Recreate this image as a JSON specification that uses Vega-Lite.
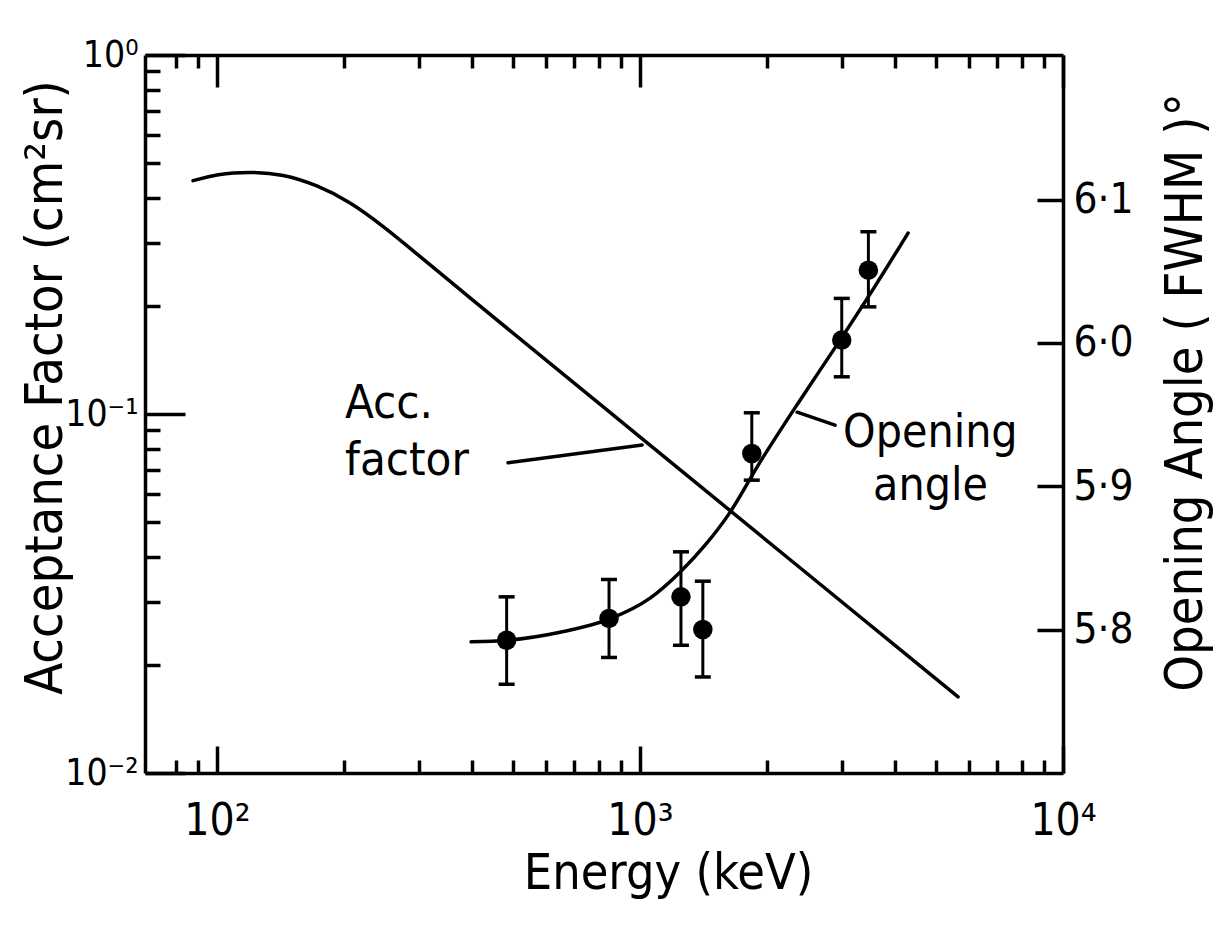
{
  "$schema": "https://vega.github.io/schema/vega-lite/v6.json",
  "width": 918,
  "height": 718,
  "autosize": {"type": "none"},
  "padding": {"left": 145, "top": 55, "right": 159, "bottom": 155},
  "background": "white",
  "config": {
    "view": {"stroke": null},
    "font": "DejaVu Sans Condensed, Liberation Sans, sans-serif",
    "axis": {
      "grid": false,
      "domainColor": "black",
      "domainWidth": 3.5,
      "tickColor": "black",
      "tickWidth": 3.5,
      "labelColor": "black",
      "titleColor": "black",
      "labelFont": "DejaVu Sans Condensed, Liberation Sans, sans-serif",
      "titleFont": "DejaVu Sans Condensed, Liberation Sans, sans-serif",
      "titleFontWeight": "normal",
      "labelOverlap": false,
      "labelFlush": false,
      "labelBound": false
    }
  },
  "datasets": {
    "acc": [
      {"energy": 87.8, "acc": 0.4466},
      {"energy": 100, "acc": 0.466},
      {"energy": 119.7, "acc": 0.473},
      {"energy": 143.2, "acc": 0.466},
      {"energy": 172.4, "acc": 0.4344},
      {"energy": 206.4, "acc": 0.3903},
      {"energy": 247, "acc": 0.334},
      {"energy": 297, "acc": 0.2795},
      {"energy": 355.6, "acc": 0.2336},
      {"energy": 1000, "acc": 0.0863},
      {"energy": 2390, "acc": 0.0373},
      {"energy": 5649, "acc": 0.01629}
    ],
    "accLeader": [
      {"energy": 487.7, "acc": 0.0731, "energy2": 1012, "acc2": 0.082}
    ],
    "accText": [
      {"energy": 200.8, "acc": 0.0975, "label": "Acc."},
      {"energy": 200.8, "acc": 0.0676, "label": "factor"}
    ],
    "angleCurve": [
      {"energy": 398.8, "angle": 5.7915},
      {"energy": 485.1, "angle": 5.7926},
      {"energy": 647.4, "angle": 5.7982},
      {"energy": 845.3, "angle": 5.8073},
      {"energy": 1056.6, "angle": 5.822},
      {"energy": 1243.6, "angle": 5.8401},
      {"energy": 1425.4, "angle": 5.8589},
      {"energy": 1615.9, "angle": 5.8799},
      {"energy": 1922.6, "angle": 5.9169},
      {"energy": 2390, "angle": 5.9601},
      {"energy": 2972, "angle": 6.002},
      {"energy": 3596, "angle": 6.0397},
      {"energy": 4303, "angle": 6.0767}
    ],
    "anglePoints": [
      {"energy": 484, "angle": 5.7926, "lo": 5.7619, "hi": 5.8229},
      {"energy": 845, "angle": 5.8078, "lo": 5.7806, "hi": 5.835},
      {"energy": 1250, "angle": 5.8229, "lo": 5.7891, "hi": 5.8543},
      {"energy": 1408, "angle": 5.8001, "lo": 5.767, "hi": 5.8338},
      {"energy": 1838, "angle": 5.9229, "lo": 5.9043, "hi": 5.9513},
      {"energy": 2999, "angle": 6.002, "lo": 5.9764, "hi": 6.0311},
      {"energy": 3467, "angle": 6.0508, "lo": 6.0252, "hi": 6.0776}
    ],
    "angleLeader": [
      {"energy": 2352, "angle": 5.9517, "energy2": 2892, "angle2": 5.9427}
    ],
    "angleText": [
      {"energy": 3021, "angle": 5.9273, "label": "Opening"},
      {"energy": 3556, "angle": 5.8903, "label": "angle"}
    ]
  },
  "layer": [
    {
      "layer": [
        {
          "data": {"name": "acc"},
          "mark": {"type": "line", "color": "black", "strokeWidth": 3.5, "interpolate": "basis", "strokeCap": "round"},
          "encoding": {
            "x": {
              "field": "energy",
              "type": "quantitative",
              "scale": {"type": "log", "domain": [67.6, 10000], "nice": false},
              "axis": {
                "orient": "bottom",
                "title": "Energy (keV)",
                "values": [80, 90, 100, 200, 300, 400, 500, 600, 700, 800, 900, 1000, 2000, 3000, 4000, 5000, 6000, 7000, 8000, 9000, 10000],
                "labelExpr": "datum.value == 100 ? '10²' : datum.value == 1000 ? '10³' : datum.value == 10000 ? '10⁴' : ''",
                "labelFontSize": 44,
                "tickSize": {"condition": {"test": "datum.value == 100 || datum.value == 1000 || datum.value == 10000", "value": -27}, "value": -13},
                "labelPadding": {"condition": {"test": "datum.value == 100 || datum.value == 1000 || datum.value == 10000", "value": 53}, "value": 40},
                "titleFontSize": 50,
                "titleX": 523,
                "titleY": 115,
                "titleAlign": "center",
                "titleBaseline": "alphabetic"
              }
            },
            "y": {
              "field": "acc",
              "type": "quantitative",
              "scale": {"type": "log", "domain": [0.01, 1], "nice": false},
              "axis": {
                "orient": "left",
                "title": "Acceptance  Factor (cm²sr)",
                "values": [0.01, 0.02, 0.03, 0.04, 0.05, 0.06, 0.07, 0.08, 0.09, 0.1, 0.2, 0.3, 0.4, 0.5, 0.6, 0.7, 0.8, 0.9, 1],
                "labelExpr": "datum.value == 1 ? '10⁰' : datum.value == 0.1 ? '10⁻¹' : datum.value == 0.01 ? '10⁻²' : ''",
                "labelFontSize": 37,
                "tickSize": {"condition": {"test": "datum.value == 1 || datum.value == 0.1 || datum.value == 0.01", "value": -40}, "value": -15},
                "labelPadding": {"condition": {"test": "datum.value == 1 || datum.value == 0.1 || datum.value == 0.01", "value": 47}, "value": 24},
                "titleFontSize": 52,
                "titleAngle": 270,
                "titleX": -100,
                "titleY": 332,
                "titleAlign": "center",
                "titleBaseline": "middle"
              }
            }
          }
        },
        {
          "data": {"name": "accLeader"},
          "mark": {"type": "rule", "color": "black", "strokeWidth": 3.5, "strokeCap": "round"},
          "encoding": {
            "x": {"field": "energy", "type": "quantitative", "scale": {"type": "log"}},
            "x2": {"field": "energy2"},
            "y": {"field": "acc", "type": "quantitative", "scale": {"type": "log"}},
            "y2": {"field": "acc2"}
          }
        },
        {
          "data": {"name": "accText"},
          "mark": {"type": "text", "color": "black", "align": "left", "baseline": "alphabetic", "fontSize": 47},
          "encoding": {
            "x": {"field": "energy", "type": "quantitative", "scale": {"type": "log"}},
            "y": {"field": "acc", "type": "quantitative", "scale": {"type": "log"}},
            "text": {"field": "label"}
          }
        }
      ]
    },
    {
      "layer": [
        {
          "data": {"name": "angleCurve"},
          "mark": {"type": "line", "color": "black", "strokeWidth": 3.5, "interpolate": "monotone", "strokeCap": "round"},
          "encoding": {
            "x": {
              "field": "energy",
              "type": "quantitative",
              "scale": {"type": "log", "domain": [67.6, 10000], "nice": false},
              "axis": {
                "orient": "top",
                "title": null,
                "labels": false,
                "values": [80, 90, 100, 200, 300, 400, 500, 600, 700, 800, 900, 1000, 2000, 3000, 4000, 5000, 6000, 7000, 8000, 9000, 10000],
                "tickSize": {"condition": {"test": "datum.value == 100 || datum.value == 1000 || datum.value == 10000", "value": -32}, "value": -13}
              }
            },
            "y": {
              "field": "angle",
              "type": "quantitative",
              "scale": {"domain": [5.7, 6.2009], "nice": false, "zero": false},
              "axis": {
                "orient": "right",
                "title": "Opening  Angle ( FWHM )°",
                "values": [5.8, 5.9, 6.0, 6.1],
                "labelExpr": "replace(format(datum.value, '.1f'), '.', '·')",
                "labelFontSize": 42,
                "tickSize": -26,
                "labelPadding": 36,
                "titleFontSize": 52,
                "titleAngle": 270,
                "titleX": 122,
                "titleY": 337,
                "titleAlign": "center",
                "titleBaseline": "middle"
              }
            }
          }
        },
        {
          "data": {"name": "anglePoints"},
          "mark": {"type": "rule", "color": "black", "strokeWidth": 3},
          "encoding": {
            "x": {"field": "energy", "type": "quantitative", "scale": {"type": "log"}},
            "y": {"field": "lo", "type": "quantitative"},
            "y2": {"field": "hi"}
          }
        },
        {
          "data": {"name": "anglePoints"},
          "mark": {"type": "tick", "color": "black", "opacity": 1, "orient": "horizontal", "size": 16, "thickness": 3.5},
          "encoding": {
            "x": {"field": "energy", "type": "quantitative", "scale": {"type": "log"}},
            "y": {"field": "lo", "type": "quantitative"}
          }
        },
        {
          "data": {"name": "anglePoints"},
          "mark": {"type": "tick", "color": "black", "opacity": 1, "orient": "horizontal", "size": 16, "thickness": 3.5},
          "encoding": {
            "x": {"field": "energy", "type": "quantitative", "scale": {"type": "log"}},
            "y": {"field": "hi", "type": "quantitative"}
          }
        },
        {
          "data": {"name": "anglePoints"},
          "mark": {"type": "point", "shape": "circle", "filled": true, "color": "black", "size": 380, "opacity": 1},
          "encoding": {
            "x": {"field": "energy", "type": "quantitative", "scale": {"type": "log"}},
            "y": {"field": "angle", "type": "quantitative"}
          }
        },
        {
          "data": {"name": "angleLeader"},
          "mark": {"type": "rule", "color": "black", "strokeWidth": 3.5, "strokeCap": "round"},
          "encoding": {
            "x": {"field": "energy", "type": "quantitative", "scale": {"type": "log"}},
            "x2": {"field": "energy2"},
            "y": {"field": "angle", "type": "quantitative"},
            "y2": {"field": "angle2"}
          }
        },
        {
          "data": {"name": "angleText"},
          "mark": {"type": "text", "color": "black", "align": "left", "baseline": "alphabetic", "fontSize": 46},
          "encoding": {
            "x": {"field": "energy", "type": "quantitative", "scale": {"type": "log"}},
            "y": {"field": "angle", "type": "quantitative"},
            "text": {"field": "label"}
          }
        }
      ]
    }
  ],
  "resolve": {"scale": {"y": "independent"}, "axis": {"x": "independent", "y": "independent"}}
}
